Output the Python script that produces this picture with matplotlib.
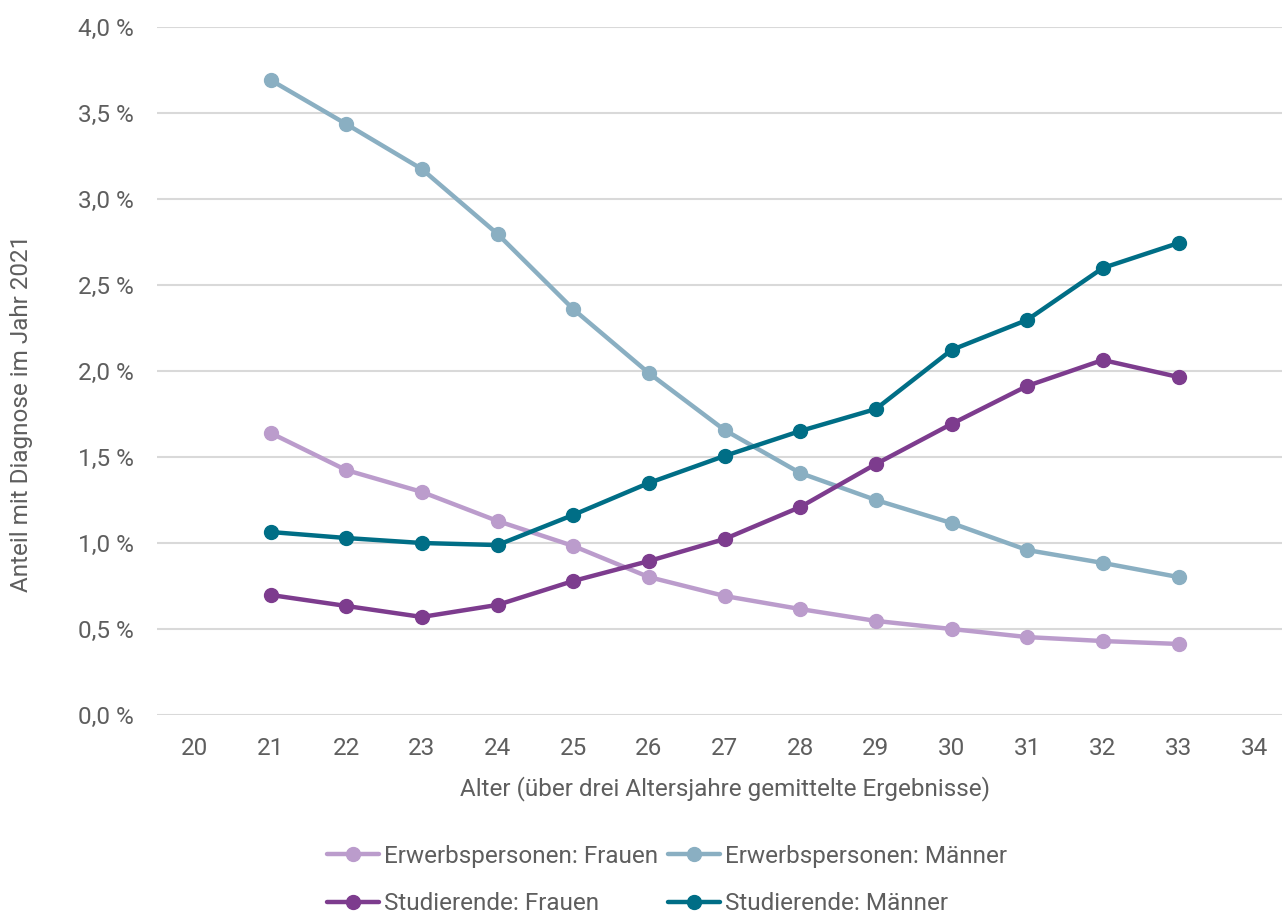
import matplotlib
matplotlib.use("Agg")
import matplotlib.pyplot as plt
from matplotlib.ticker import FuncFormatter, MultipleLocator

plt.rcParams['font.family'] = ['Roboto', 'DejaVu Sans']

ages = [21, 22, 23, 24, 25, 26, 27, 28, 29, 30, 31, 32, 33]
erw_frauen = [1.640, 1.424, 1.297, 1.128, 0.983, 0.802, 0.692, 0.616, 0.547, 0.500, 0.453, 0.430, 0.413]
erw_maenner = [3.692, 3.436, 3.174, 2.797, 2.360, 1.988, 1.657, 1.407, 1.250, 1.116, 0.959, 0.884, 0.802]
stud_frauen = [0.698, 0.634, 0.570, 0.640, 0.779, 0.895, 1.023, 1.209, 1.459, 1.692, 1.913, 2.064, 1.965]
stud_maenner = [1.064, 1.029, 1.000, 0.988, 1.163, 1.349, 1.506, 1.651, 1.779, 2.122, 2.297, 2.599, 2.744]

series = [
    ("Erwerbspersonen: Frauen", erw_frauen, "#BB9CCC"),
    ("Erwerbspersonen: Männer", erw_maenner, "#8AAFC2"),
    ("Studierende: Frauen", stud_frauen, "#7D3C8E"),
    ("Studierende: Männer", stud_maenner, "#006E86"),
]

text_col = "#5E5E5E"
fs = 17.5

fig = plt.figure(figsize=(12.82, 9.17), dpi=100)
ax = fig.add_axes([157 / 1282, 1 - 715 / 917, 1135 / 1282, 688 / 917])

lines = []
for label, vals, col in series:
    ln, = ax.plot(ages, vals, color=col, lw=3.2, marker="o", markersize=10,
                  label=label, solid_capstyle="round", zorder=3)
    lines.append(ln)

ax.set_xlim(19.5, 34.5)
ax.set_ylim(0, 4.0)
ax.set_xticks(range(20, 35))
ax.yaxis.set_major_locator(MultipleLocator(0.5))
ax.yaxis.set_major_formatter(FuncFormatter(lambda v, p: f"{v:.1f} %".replace(".", ",")))
ax.grid(axis="y", color="#D9D9D9", lw=1.5, zorder=0)
ax.set_axisbelow(True)
for s in ax.spines.values():
    s.set_visible(False)
ax.tick_params(axis="both", length=0, labelsize=fs, colors=text_col)
ax.tick_params(axis="y", pad=17)
ax.tick_params(axis="x", pad=16)

ax.set_xlabel("Alter (über drei Altersjahre gemittelte Ergebnisse)", fontsize=fs,
              color=text_col)
ax.xaxis.set_label_coords(0.5, -61 / 688)
fig.text(22 / 1282, 1 - 413 / 917, "Anteil mit Diagnose im Jahr 2021", rotation=90,
         ha="center", va="center", fontsize=fs, color=text_col)

order = [0, 2, 1, 3]
leg = fig.legend([lines[i] for i in order], [series[i][0] for i in order],
                 loc="center", bbox_to_anchor=(667 / 1282, 1 - 880 / 917), ncol=2,
                 frameon=False, fontsize=fs, handlelength=2.15, handletextpad=0.2,
                 columnspacing=0.4, labelspacing=1.0, borderpad=0.2)
for t in leg.get_texts():
    t.set_color(text_col)

fig.savefig("out.png", dpi=100)
